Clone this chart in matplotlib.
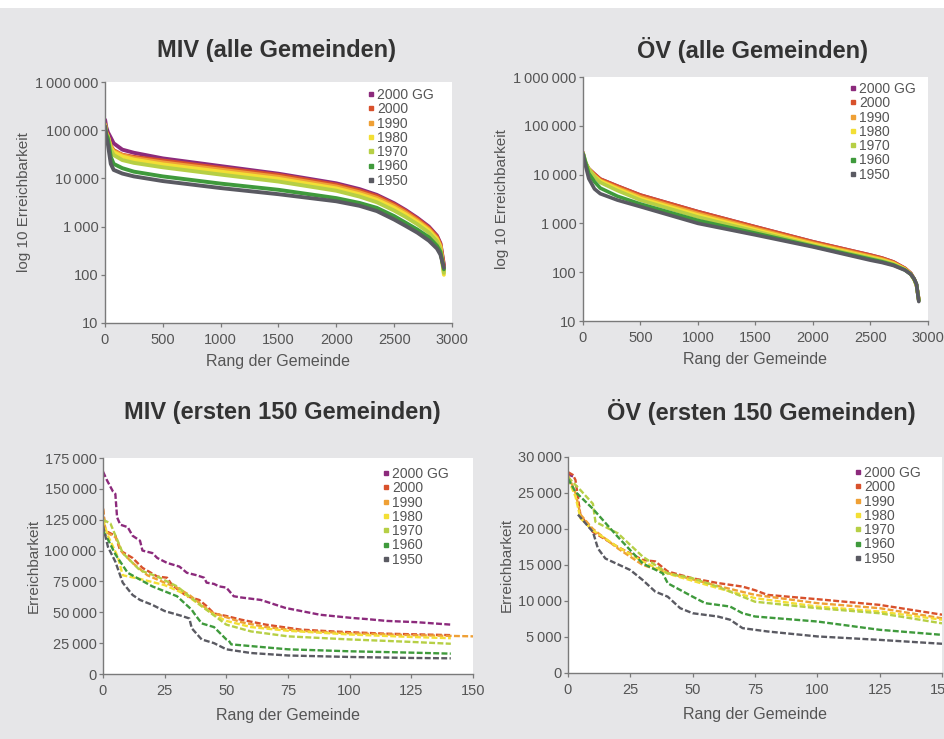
import matplotlib
matplotlib.use("Agg")
import matplotlib.pyplot as plt
from matplotlib.lines import Line2D
from matplotlib.ticker import FixedLocator, FuncFormatter

plt.rcParams['font.family'] = ['Liberation Sans', 'DejaVu Sans']

# ---------------- data ----------------
series_names = ["2000 GG", "2000", "1990", "1980", "1970", "1960", "1950"]
series_colors = ["#8c2a7c", "#d8512c", "#efa035", "#f3df35", "#b6cf45", "#3f9a3c", "#5a5a62"]

# MIV, alle Gemeinden (log scale)
miv_all_rank = [1, 10, 25, 50, 75, 150, 250, 500, 1000, 1500, 2000, 2200, 2350, 2500, 2600, 2700, 2800, 2870, 2900, 2930]
miv_all_2000gg = [164000, 118000, 91000, 70000, 53500, 39500, 34000, 26000, 18000, 12500, 7900, 6000, 4550, 3050, 2200, 1520, 1000, 650, 450, 160]
miv_all_2000 = [134000, 96000, 76000, 47000, 38500, 31000, 28000, 23500, 16500, 11800, 7400, 5600, 4300, 2900, 2100, 1450, 950, 620, 430, 150]
miv_all_1990 = [132000, 92000, 74000, 46000, 37000, 30500, 26500, 21500, 15200, 10800, 6800, 5150, 3950, 2680, 1950, 1350, 890, 580, 400, 120]
miv_all_1980 = [125000, 80000, 72000, 43000, 35000, 28500, 24500, 19500, 13800, 9800, 6200, 4700, 3600, 2450, 1790, 1250, 830, 545, 375, 100]
miv_all_1970 = [125000, 86000, 75000, 40000, 30500, 24000, 21000, 17000, 12000, 8600, 5550, 4200, 3200, 2150, 1580, 1120, 750, 500, 345, 110]
miv_all_1960 = [116000, 82000, 67000, 28000, 20000, 16300, 13800, 11000, 7800, 5800, 3900, 3100, 2450, 1650, 1200, 870, 600, 400, 300, 130]
miv_all_1950 = [120000, 72000, 51000, 20000, 15000, 12600, 11000, 8800, 6300, 4700, 3350, 2700, 2100, 1400, 1030, 750, 510, 350, 262, 140]

# ÖV, alle Gemeinden (log scale)
ov_all_rank = [1, 10, 25, 50, 100, 150, 300, 500, 1000, 1500, 2000, 2500, 2600, 2700, 2800, 2850, 2880, 2900, 2920]
ov_all_2000gg = [28000, 19600, 16500, 13150, 10250, 8100, 5800, 3800, 1740, 850, 420, 224, 195, 162, 120, 95, 72, 55, 27]
ov_all_2000 = [28000, 19600, 16500, 13150, 10250, 8100, 5800, 3800, 1740, 850, 420, 224, 195, 162, 120, 95, 72, 55, 27]
ov_all_1990 = [27500, 20000, 16200, 13000, 9700, 7600, 5400, 3500, 1600, 790, 395, 212, 186, 156, 117, 93, 71, 54, 27]
ov_all_1980 = [27000, 19800, 16000, 12800, 9230, 7400, 5100, 3250, 1480, 740, 375, 202, 178, 151, 115, 92, 71, 54, 26]
ov_all_1970 = [27200, 23500, 17500, 13150, 9000, 6900, 4700, 3000, 1350, 690, 355, 194, 171, 146, 113, 91, 71, 55, 27]
ov_all_1960 = [27000, 22800, 17000, 10600, 7150, 5300, 3600, 2500, 1150, 630, 340, 185, 164, 141, 111, 91, 72, 56, 26]
ov_all_1950 = [26000, 19600, 14300, 8300, 5080, 4060, 3000, 2200, 1000, 580, 330, 176, 158, 137, 110, 91, 73, 57, 25]

# MIV, ersten 150 Gemeinden
miv150_2000gg_rank = [0, 1.6, 4, 5, 5.7, 7, 10, 12, 15, 16, 20, 22, 26, 31, 34, 38, 41, 42, 45, 47, 50, 53, 56, 64, 74, 88, 101, 107, 115, 127, 141]
miv150_2000gg = [164000, 157000, 148000, 146000, 127000, 121000, 119000, 112000, 108000, 100000, 98000, 94000, 90000, 87000, 82000, 80000,
                 78000, 74000, 73000, 71000, 70000, 63000, 62000, 60000, 53500, 48000, 45400, 44500, 43000, 42000, 40000]
miv150_2000_rank = [0, 1, 5, 7, 12, 16, 22, 26, 28, 34, 39, 42, 45, 50, 56, 66, 80, 93, 114, 141]
miv150_2000 = [134000, 116000, 112000, 100000, 94000, 86000, 79000, 78000, 72000, 63000, 60000, 55000, 49000, 47000, 44000, 40000, 36000, 34500, 32700, 31500]
miv150_1990_rank = [0, 1, 5, 8, 12, 18, 25, 30, 35, 40, 44, 50, 56, 66, 80, 100, 125, 150]
miv150_1990 = [134000, 115000, 111000, 98000, 90000, 80000, 74000, 70000, 64000, 56000, 50000, 46000, 42000, 38000, 35000, 33000, 31500, 30500]
miv150_1980_rank = [0, 2, 6, 8, 15, 25, 33, 40, 45, 50, 60, 75, 100, 125, 141]
miv150_1980 = [125000, 112000, 95000, 80000, 77000, 72000, 65000, 55000, 48000, 43000, 38000, 35000, 32000, 30000, 29000]
miv150_1970_rank = [0, 3, 8, 15, 22, 30, 40, 50, 60, 75, 100, 125, 141]
miv150_1970 = [125000, 122000, 98000, 84000, 79000, 71000, 55000, 40000, 34500, 30500, 28000, 26000, 24500]
miv150_1960_rank = [0, 2, 5, 10, 20, 30, 36, 37, 40, 45, 50, 51, 52, 75, 100, 125, 141]
miv150_1960 = [116000, 109000, 97000, 82000, 71000, 63000, 52000, 49000, 41000, 38000, 28000, 27000, 24000, 20000, 18400, 17300, 16500]
miv150_1950_rank = [0, 2, 5, 8, 12, 15, 20, 25, 32, 35, 36, 40, 45, 50, 60, 75, 100, 125, 141]
miv150_1950 = [120000, 103000, 91000, 74000, 64000, 60000, 56000, 51000, 47000, 45000, 37000, 28000, 25000, 20000, 17000, 15000, 13800, 13000, 12700]

# ÖV, ersten 150 Gemeinden
ov150_2000gg_rank = [0, 2]
ov150_2000gg = [27600, 27300]
ov150_2000_rank = [0, 2, 3, 5, 10, 20, 30, 35, 40, 50, 60, 70, 75, 80, 100, 125, 150]
ov150_2000 = [27900, 27500, 26800, 21900, 19600, 17500, 15700, 15500, 14100, 13150, 12500, 12000, 11500, 10850, 10250, 9460, 8100]
ov150_1990_rank = [0, 3, 5, 10, 20, 30, 40, 50, 60, 75, 100, 125, 150]
ov150_1990 = [27500, 25000, 22000, 20000, 17300, 15000, 13900, 13000, 12100, 10850, 9700, 9000, 7600]
ov150_1980_rank = [0, 3, 5, 10, 20, 30, 40, 50, 60, 75, 100, 125, 150]
ov150_1980 = [27000, 24500, 21500, 19800, 17500, 15500, 13800, 12800, 11800, 10400, 9230, 8540, 7400]
ov150_1970_rank = [0, 5, 10, 11, 20, 30, 40, 50, 60, 75, 100, 125, 150]
ov150_1970 = [27200, 25400, 23500, 21000, 19400, 16150, 13850, 13150, 12000, 9900, 9000, 8300, 6900]
ov150_1960_rank = [0, 3, 10, 20, 30, 38, 40, 50, 55, 65, 70, 75, 100, 125, 150]
ov150_1960 = [27000, 25150, 22800, 18900, 15200, 13850, 12460, 10600, 9700, 9230, 8300, 7850, 7150, 6000, 5300]
ov150_1950_rank = [4, 10, 12, 15, 25, 30, 35, 40, 45, 50, 60, 65, 70, 80, 100, 125, 150]
ov150_1950 = [22000, 19600, 17300, 15900, 14300, 12900, 11300, 10600, 9000, 8300, 7850, 7400, 6230, 5770, 5080, 4600, 4060]

titles = ["MIV (alle Gemeinden)", "ÖV (alle Gemeinden)", "MIV (ersten 150 Gemeinden)", "ÖV (ersten 150 Gemeinden)"]
xticks_all = [0, 500, 1000, 1500, 2000, 2500, 3000]
xticks_150 = [0, 25, 50, 75, 100, 125, 150]
yticks_log = [10, 100, 1000, 10000, 100000, 1000000]
yticks_miv150 = [0, 25000, 50000, 75000, 100000, 125000, 150000, 175000]
yticks_ov150 = [0, 5000, 10000, 15000, 20000, 25000, 30000]

# ---------------- figure ----------------
BG = "#e6e6e8"
TXT = "#333333"
TICK = "#555555"
fig = plt.figure(figsize=(9.45, 7.39), dpi=100, facecolor=BG)
fig.patches.append(plt.Rectangle((0, 1 - 8 / 739), 1, 8 / 739, transform=fig.transFigure,
                                 facecolor="white", edgecolor="none", zorder=0))

def px_axes(x0, y0, x1, y1):
    return fig.add_axes([x0 / 945, 1 - y1 / 739, (x1 - x0) / 945, (y1 - y0) / 739])

ax_tl = px_axes(105, 82, 452, 323)
ax_tr = px_axes(583, 77, 928, 321)
ax_bl = px_axes(103, 458, 473, 674)
ax_br = px_axes(568, 457, 942, 673)

def fmt_thousands(v, pos=None):
    s = f"{int(round(v)):,}"
    return s.replace(",", "\u2009")

def style(ax):
    ax.set_facecolor("white")
    for s in ["top", "right"]:
        ax.spines[s].set_visible(False)
    for s in ["left", "bottom"]:
        ax.spines[s].set_color("#7a7a7a")
        ax.spines[s].set_linewidth(1.0)
    ax.tick_params(axis="both", which="major", direction="out", length=3, width=0.9,
                   color="#7a7a7a", labelcolor=TICK, labelsize=10.5, pad=1.5)
    ax.tick_params(axis="x", which="major", pad=4.5)
    ax.tick_params(axis="both", which="minor", length=0)

def add_legend(ax, anchor):
    handles = [Line2D([], [], linestyle="none", marker="s", markersize=3.4,
                      markerfacecolor=c, markeredgecolor=c) for c in series_colors]
    leg = ax.legend(handles, series_names, loc="upper left", bbox_to_anchor=anchor,
                    frameon=False, fontsize=10, handlelength=0.4, handletextpad=0.25,
                    labelspacing=0.02, borderaxespad=0, borderpad=0)
    for t in leg.get_texts():
        t.set_color(TICK)

miv_all = [miv_all_2000gg, miv_all_2000, miv_all_1990, miv_all_1980, miv_all_1970, miv_all_1960, miv_all_1950]
for vals, c in zip(miv_all, series_colors):
    ax_tl.plot(miv_all_rank, vals, color=c, lw=2.8, solid_capstyle="round", solid_joinstyle="round")
ov_all = [ov_all_2000gg, ov_all_2000, ov_all_1990, ov_all_1980, ov_all_1970, ov_all_1960, ov_all_1950]
for vals, c in zip(ov_all, series_colors):
    ax_tr.plot(ov_all_rank, vals, color=c, lw=2.6, solid_capstyle="round", solid_joinstyle="round")

for ax in (ax_tl, ax_tr):
    style(ax)
    ax.set_yscale("log")
    ax.set_ylim(10, 1000000)
    ax.set_xlim(0, 3000)
    ax.yaxis.set_major_locator(FixedLocator(yticks_log))
    ax.yaxis.set_major_formatter(FuncFormatter(fmt_thousands))
    ax.yaxis.set_minor_locator(FixedLocator([]))
    ax.set_xticks(xticks_all)
    ax.set_ylabel("log 10 Erreichbarkeit", fontsize=11, color=TICK, labelpad=3)
    ax.set_xlabel("Rang der Gemeinde", fontsize=11.5, color=TICK, labelpad=5)

miv150 = [(miv150_2000gg_rank, miv150_2000gg), (miv150_2000_rank, miv150_2000), (miv150_1990_rank, miv150_1990),
          (miv150_1980_rank, miv150_1980), (miv150_1970_rank, miv150_1970), (miv150_1960_rank, miv150_1960),
          (miv150_1950_rank, miv150_1950)]
for (r, v), c in zip(miv150, series_colors):
    ax_bl.plot(r, v, color=c, lw=1.7, linestyle=(0, (2.5, 1)))
ov150 = [(ov150_2000gg_rank, ov150_2000gg), (ov150_2000_rank, ov150_2000), (ov150_1990_rank, ov150_1990),
         (ov150_1980_rank, ov150_1980), (ov150_1970_rank, ov150_1970), (ov150_1960_rank, ov150_1960),
         (ov150_1950_rank, ov150_1950)]
for (r, v), c in zip(ov150, series_colors):
    ax_br.plot(r, v, color=c, lw=1.7, linestyle=(0, (2.5, 1)))

for ax, yt in ((ax_bl, yticks_miv150), (ax_br, yticks_ov150)):
    style(ax)
    ax.set_xlim(0, 150)
    ax.set_ylim(0, yt[-1])
    ax.set_xticks(xticks_150)
    ax.set_yticks(yt)
    ax.yaxis.set_major_formatter(FuncFormatter(fmt_thousands))
    ax.set_ylabel("Erreichbarkeit", fontsize=11, color=TICK, labelpad=3)
    ax.set_xlabel("Rang der Gemeinde", fontsize=11.5, color=TICK, labelpad=7)

add_legend(ax_tl, ((368 - 105) / 347, 1 - (88 - 82) / 241))
add_legend(ax_tr, ((850 - 583) / 345, 1 - (82 - 77) / 244))
add_legend(ax_bl, ((383 - 103) / 370, 1 - (467 - 458) / 216))
add_legend(ax_br, ((855 - 568) / 374, 1 - (466 - 457) / 216))

fig.text(277 / 945, 1 - 50 / 739, titles[0], ha="center", va="center", fontsize=17, fontweight="bold", color=TXT)
fig.text(753 / 945, 1 - 50 / 739, titles[1], ha="center", va="center", fontsize=17, fontweight="bold", color=TXT)
fig.text(282 / 945, 1 - 412 / 739, titles[2], ha="center", va="center", fontsize=17, fontweight="bold", color=TXT)
fig.text(761 / 945, 1 - 412 / 739, titles[3], ha="center", va="center", fontsize=17, fontweight="bold", color=TXT)

fig.savefig("out.png", dpi=100, facecolor=BG)
